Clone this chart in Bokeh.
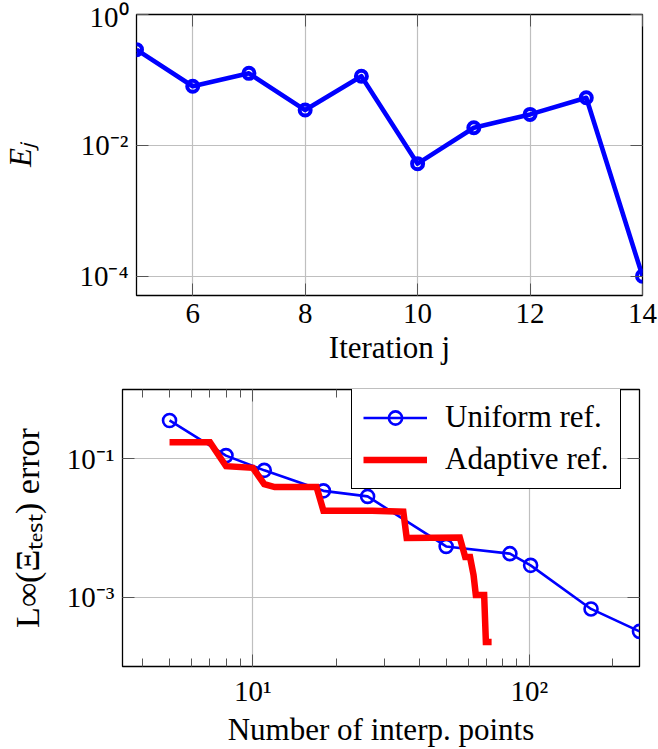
from bokeh.plotting import figure
from bokeh.models import (FixedTicker, LogAxis, LinearAxis, Legend, LegendItem, Range1d,
                          CustomJSTickFormatter)
from bokeh.layouts import column, row
from bokeh.embed import file_html
from bokeh.resources import INLINE

# ---------------- data ----------------
iterations = [5, 6, 7, 8, 9, 10, 11, 12, 13, 14]
E_j = [0.29, 0.080, 0.126, 0.0346, 0.114, 0.00524, 0.0186, 0.0297, 0.0533, 1.0e-4]

uniform_n = [5, 8, 11, 18, 26, 50, 85, 101, 167, 250]
uniform_err = [0.357, 0.111, 0.068, 0.0344, 0.0286, 0.00542, 0.00426, 0.00289, 6.78e-4, 3.21e-4]

adaptive_n = [5, 7, 8, 10, 11, 12, 17, 18, 27, 35, 36, 56, 58.6, 61, 62.8, 64, 68.6, 69.6, 73]
adaptive_err = [0.173, 0.173, 0.078, 0.074, 0.043, 0.039, 0.039, 0.0178, 0.0178, 0.0172,
                0.0072, 0.0073, 0.0038, 0.0038, 0.0021, 0.00108, 0.00108, 2.26e-4, 2.26e-4]

top_xticks = [6, 8, 10, 12, 14]
top_yticks = [1e-4, 1e-2, 1]
top_ylabels = {1e-4: "10⁻⁴", 1e-2: "10⁻²", 1: "10⁰"}

bot_xticks = [10, 100]
bot_xminor = [4, 5, 6, 7, 8, 9, 20, 30, 40, 50, 60, 70, 80, 90, 200]
bot_xlabels = {10: "10¹", 100: "10²"}
bot_yticks = [1e-3, 1e-1]
bot_ylabels = {1e-3: "10⁻³", 1e-1: "10⁻¹"}

FONT = "Liberation Serif"
BLUE = "#0000ff"
RED = "#ff0000"
GRID = "#bfbfbf"
TICK = "#555555"


def style_axis(ax, show_labels=True):
    ax.axis_line_color = None
    ax.major_tick_in = 12
    ax.major_tick_out = 0
    ax.minor_tick_in = 8
    ax.minor_tick_out = 0
    ax.major_tick_line_color = TICK
    ax.minor_tick_line_color = TICK
    ax.major_tick_line_width = 1
    ax.minor_tick_line_width = 1
    ax.major_label_text_font = FONT
    ax.major_label_text_color = "black"
    ax.axis_label_text_font = FONT
    ax.axis_label_text_font_size = "31px"
    ax.axis_label_text_font_style = "normal"
    ax.axis_label_text_color = "black"
    if show_labels:
        ax.major_label_text_font_size = "29px"
        ax.major_label_standoff = 8
    else:
        ax.formatter = CustomJSTickFormatter(code="return ''")
        ax.major_label_text_font_size = "1px"
        ax.major_label_standoff = 0


def style_fig(p):
    p.outline_line_color = "black"
    p.outline_line_width = 1.3
    p.outline_line_alpha = 1
    p.background_fill_color = "white"
    p.border_fill_color = "white"
    for g in (p.xgrid, p.ygrid):
        g.grid_line_color = GRID
        g.grid_line_width = 1.2


# ---------------- top figure ----------------
p1 = figure(width=658, height=380, y_axis_type="log",
            x_range=Range1d(5, 14), y_range=Range1d(10 ** -4.296, 1),
            output_backend="svg", toolbar_location=None,
            min_border_left=134, min_border_right=16, min_border_top=14, min_border_bottom=85)
style_fig(p1)
xt1 = FixedTicker(ticks=top_xticks, minor_ticks=[])
yt1 = FixedTicker(ticks=top_yticks, minor_ticks=[])
p1.xaxis.ticker = xt1
p1.yaxis.ticker = yt1
p1.xgrid.ticker = xt1
p1.ygrid.ticker = yt1
p1.yaxis.major_label_overrides = top_ylabels
for ax in p1.xaxis + p1.yaxis:
    style_axis(ax)
p1.xaxis.axis_label = "Iteration j"
p1.yaxis.axis_label = "Eⱼ"
p1.yaxis.axis_label_text_font_style = "italic"
p1.yaxis.axis_label_standoff = 38
p1.xaxis.axis_label_standoff = 4
ax_top = LinearAxis(ticker=xt1)
style_axis(ax_top, show_labels=False)
p1.add_layout(ax_top, "above")
ax_right = LinearAxis(ticker=yt1)
style_axis(ax_right, show_labels=False)
p1.add_layout(ax_right, "right")

p1.line(iterations, E_j, line_color=BLUE, line_width=4.6, line_join="round")
p1.scatter(iterations, E_j, marker="circle", size=11, line_color=BLUE, line_width=4,
           fill_color=None)

# ---------------- bottom figure ----------------
p2 = figure(width=658, height=369, x_axis_type="log", y_axis_type="log",
            x_range=Range1d(3.38, 250), y_range=Range1d(1e-4, 1),
            output_backend="svg", toolbar_location=None,
            min_border_left=122, min_border_right=19, min_border_top=9, min_border_bottom=81)
style_fig(p2)
xt2 = FixedTicker(ticks=bot_xticks, minor_ticks=bot_xminor)
yt2 = FixedTicker(ticks=bot_yticks, minor_ticks=[])
p2.xaxis.ticker = xt2
p2.yaxis.ticker = yt2
p2.xgrid.ticker = xt2
p2.ygrid.ticker = yt2
p2.xaxis.major_label_overrides = bot_xlabels
p2.yaxis.major_label_overrides = bot_ylabels
for ax in p2.xaxis + p2.yaxis:
    style_axis(ax)
p2.xaxis.axis_label = "Number of interp. points"
p2.yaxis.axis_label = "L∞(Ξₜₑₛₜ) error"
p2.yaxis.axis_label_text_font_size = "34px"
p2.yaxis.axis_label_standoff = 18
p2.xaxis.axis_label_standoff = 2
ax_top2 = LinearAxis(ticker=xt2)
style_axis(ax_top2, show_labels=False)
p2.add_layout(ax_top2, "above")
ax_right2 = LinearAxis(ticker=yt2)
style_axis(ax_right2, show_labels=False)
p2.add_layout(ax_right2, "right")

r_uline = p2.line(uniform_n, uniform_err, line_color=BLUE, line_width=2.6)
r_umark = p2.scatter(uniform_n, uniform_err, marker="circle", size=13, line_color=BLUE,
                     line_width=2.6, fill_color=None)
r_aline = p2.line(adaptive_n, adaptive_err, line_color=RED, line_width=6.5, line_join="miter")

legend = Legend(items=[LegendItem(label="Uniform ref.", renderers=[r_uline, r_umark]),
                       LegendItem(label="Adaptive ref.", renderers=[r_aline])],
                location=(229, 177), margin=0, padding=11, spacing=6,
                glyph_width=64, glyph_height=33, label_height=33, label_standoff=18,
                label_text_font=FONT, label_text_font_size="31px", label_text_color="black",
                border_line_color="black", border_line_width=1.3, border_line_alpha=1,
                background_fill_color="white", background_fill_alpha=1)
p2.add_layout(legend, "center")

layout = column(row(p1), row(p2), spacing=0)
open("out.html", "w").write(file_html(layout, INLINE))
